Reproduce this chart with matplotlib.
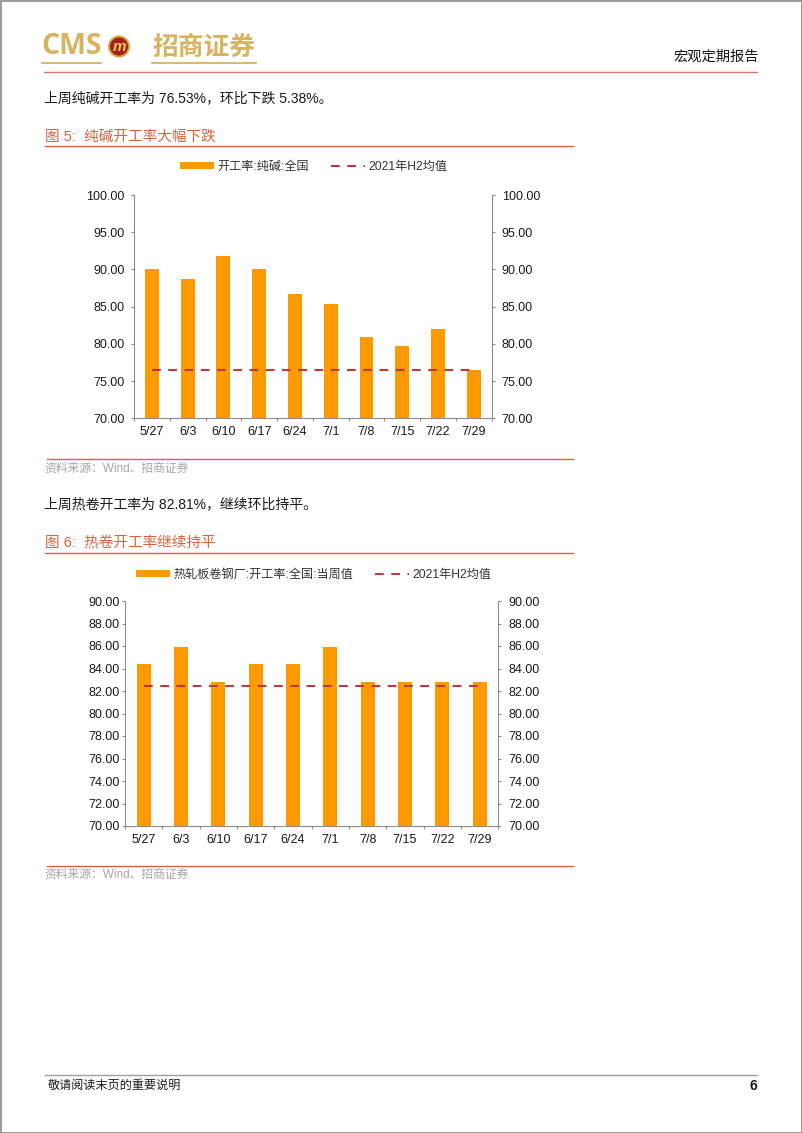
import numpy as np
import matplotlib
matplotlib.use('Agg')
import matplotlib.pyplot as plt
from matplotlib.patches import Circle, Rectangle
from matplotlib.ticker import FormatStrFormatter

plt.rcParams['font.family'] = ['Liberation Sans', 'Noto Sans CJK SC']

# data
dates = ['5/27', '6/3', '6/10', '6/17', '6/24', '7/1', '7/8', '7/15', '7/22', '7/29']
soda_rate = [90.05, 88.70, 91.80, 90.05, 86.70, 85.35, 80.90, 79.65, 81.95, 76.53]
soda_h2_avg = 76.55
hrc_rate = [84.37, 85.94, 82.81, 84.37, 84.37, 85.94, 82.81, 82.81, 82.81, 82.81]
hrc_h2_avg = 82.42

soda_label = '开工率:纯碱:全国'
hrc_label = '热轧板卷钢厂:开工率:全国:当周值'
avg_label = '2021年H2均值'

W, H = 802, 1133
BAR = '#FF9900'
AVG = '#B83C3F'
AXC = '#8C8C8C'
GOLD = '#D6B460'
RED = '#D8643C'
TXT = '#1A1A1A'

fig = plt.figure(figsize=(W / 100, H / 100), dpi=100)

# page layer in pixel coordinates
pg = fig.add_axes([0, 0, 1, 1])
pg.set_xlim(0, W)
pg.set_ylim(H, 0)
pg.axis('off')

pg.add_patch(Rectangle((0.5, 0.5), W - 1, H - 1, fill=False, edgecolor='#8A8A8A', lw=1.2))

# header / logo
pg.text(41, 47, 'CMS', fontsize=20.5, fontweight='bold', family='Open Sans', color=GOLD, va='center', ha='left')
pg.add_patch(Circle((119, 46.5), 10, facecolor='#A3231C', edgecolor='#D9A441', lw=1.4))
pg.text(119, 47, 'm', fontsize=11, fontweight='bold', style='italic', color='#F2C75C', ha='center', va='center')
pg.text(152, 47, '招商证券', fontsize=18.5, fontweight='bold', family='Noto Sans CJK SC', color=GOLD, va='center', ha='left')
pg.plot([42, 101], [62.5, 62.5], color=GOLD, lw=1.3)
pg.plot([152, 256], [62.5, 62.5], color=GOLD, lw=1.3)
pg.text(759, 57, '宏观定期报告', fontsize=10.3, color=TXT, ha='right', va='center')
pg.plot([44, 757], [71.7, 71.7], color='#D07A72', lw=1.0)

# section texts
pg.text(44, 98, '上周纯碱开工率为 76.53%，环比下跌 5.38%。', fontsize=10, color=TXT, va='center')
pg.text(45, 137, '图 5:  纯碱开工率大幅下跌', fontsize=10.5, color=RED, va='center')
pg.plot([45, 573], [146, 146], color=RED, lw=1.0)
pg.plot([47, 573], [459, 459], color=RED, lw=1.0)
pg.text(44, 469, '资料来源：Wind、招商证券', fontsize=8.5, color='#A6A6A6', va='center')

pg.text(44, 504, '上周热卷开工率为 82.81%，继续环比持平。', fontsize=10, color=TXT, va='center')
pg.text(45, 543, '图 6:  热卷开工率继续持平', fontsize=10.5, color=RED, va='center')
pg.plot([45, 573], [553, 553], color=RED, lw=1.0)
pg.plot([47, 573], [866, 866], color=RED, lw=1.0)
pg.text(44, 875, '资料来源：Wind、招商证券', fontsize=8.5, color='#A6A6A6', va='center')

# footer
pg.plot([45, 757], [1075, 1075], color='#A0A0A0', lw=1.0)
pg.text(48, 1086, '敬请阅读末页的重要说明', fontsize=8.7, color=TXT, va='center')
pg.text(757, 1086, '6', fontsize=10, fontweight='bold', color=TXT, va='center', ha='right')


def draw_chart(box, values, avg, ylim, step, bar_label, legend_xy, lpad, rpad, wbar):
    l, t, r, b = box
    ax = fig.add_axes([l / W, 1 - b / H, (r - l) / W, (b - t) / H])
    x = np.arange(len(dates))
    bars = ax.bar(x, values, width=wbar, color=BAR, zorder=2, label=bar_label)
    line, = ax.plot(x, [avg] * len(x), color=AVG, lw=1.5, dashes=(4.2, 3.6), zorder=3, label=avg_label)
    ax.set_xlim(-0.5, len(dates) - 0.5)
    ax.set_ylim(*ylim)
    ticks = np.arange(ylim[0], ylim[1] + 0.01, step)
    ax.set_yticks(ticks)
    ax.yaxis.set_major_formatter(FormatStrFormatter('%.2f'))
    ax.set_xticks(x)
    ax.set_xticklabels(dates)
    ax.set_xticks(np.arange(-0.5, len(dates), 1), minor=True)
    ax.tick_params(axis='x', which='major', length=0, pad=5.5, labelsize=9, labelcolor=TXT)
    ax.tick_params(axis='x', which='minor', length=2.5, color=AXC, width=0.8)
    ax.tick_params(axis='y', length=2.2, width=0.8, color=AXC, pad=lpad, labelsize=9, labelcolor=TXT)
    for s in ['top', 'right']:
        ax.spines[s].set_visible(False)
    for s in ['left', 'bottom']:
        ax.spines[s].set_color(AXC)
        ax.spines[s].set_linewidth(0.8)

    ax2 = ax.twinx()
    ax2.set_ylim(*ylim)
    ax2.set_yticks(ticks)
    ax2.yaxis.set_major_formatter(FormatStrFormatter('%.2f'))
    ax2.tick_params(axis='y', length=2.2, width=0.8, color=AXC, pad=rpad, labelsize=9, labelcolor=TXT)
    for s in ['top', 'left', 'bottom']:
        ax2.spines[s].set_visible(False)
    ax2.spines['right'].set_color(AXC)
    ax2.spines['right'].set_linewidth(0.8)

    fig.legend(handles=[bars, line], loc='center',
               bbox_to_anchor=(legend_xy[0] / W, 1 - legend_xy[1] / H),
               ncol=2, frameon=False, fontsize=8.7, handlelength=2.8, handleheight=0.45,
               handletextpad=0.3, columnspacing=1.8, labelcolor='#333333')
    return ax


draw_chart((134, 195, 491.7, 418.3), soda_rate, soda_h2_avg, (70, 100), 5,
           soda_label, (314, 167), 4.8, 5.0, 0.39)
draw_chart((125, 601, 498.3, 826), hrc_rate, hrc_h2_avg, (70, 90), 2,
           hrc_label, (314, 575), 1.5, 5.0, 0.38)

fig.savefig('out.png', dpi=100)
